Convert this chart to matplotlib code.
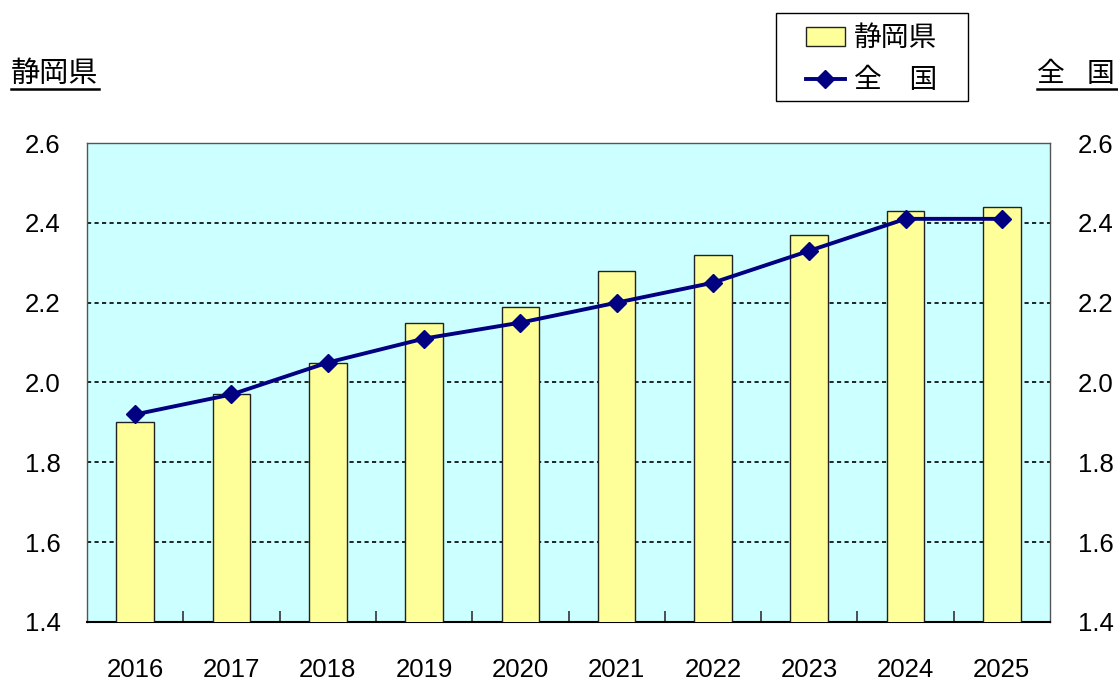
import matplotlib
matplotlib.use("Agg")
import matplotlib.pyplot as plt
from matplotlib.lines import Line2D
from matplotlib.patches import Patch, Rectangle

plt.rcParams['font.family'] = ['Liberation Sans', 'Noto Sans CJK JP', 'DejaVu Sans']

years = ["2016", "2017", "2018", "2019", "2020", "2021", "2022", "2023", "2024", "2025"]
shizuoka = [1.90, 1.97, 2.05, 2.15, 2.19, 2.28, 2.32, 2.37, 2.43, 2.44]
zenkoku = [1.92, 1.97, 2.05, 2.11, 2.15, 2.20, 2.25, 2.33, 2.41, 2.41]
yticks = [1.4, 1.6, 1.8, 2.0, 2.2, 2.4, 2.6]

fig = plt.figure(figsize=(11.18, 6.82), dpi=100)
ax = fig.add_axes([0.0778, 0.0880, 0.8614, 0.7023])
ax.set_facecolor('#CCFFFF')

x = list(range(len(years)))
ax.bar(x, shizuoka, width=0.39, color='#FFFF99', edgecolor='#222222', linewidth=1.0, zorder=3)
ax.plot(x, zenkoku, color='#000080', linewidth=2.8, marker='D', markersize=9,
        markerfacecolor='#000080', markeredgecolor='#000080', zorder=4)

ax.set_xlim(-0.5, len(years) - 0.5)
ax.set_ylim(1.4, 2.6)
ax.set_yticks(yticks)
ax.set_yticklabels([f"{v:.1f}" for v in yticks], fontsize=18.5)
ax.yaxis.grid(True, color='black', linestyle=(0, (2.5, 2)), linewidth=1.2, zorder=1)
ax.set_axisbelow(True)
ax.tick_params(axis='y', length=0, pad=19)

ax.set_xticks(x)
ax.set_xticklabels(years, fontsize=18.5)
ax.set_xticks([i + 0.5 for i in range(len(years) - 1)], minor=True)
ax.tick_params(axis='x', which='major', length=0, pad=26)
ax.tick_params(axis='x', which='minor', direction='in', length=8, width=1.2, color='#333333')

for side in ['left', 'right', 'top']:
    ax.spines[side].set_color('#555555')
    ax.spines[side].set_linewidth(1.0)
ax.spines['bottom'].set_color('black')
ax.spines['bottom'].set_linewidth(1.5)

ax2 = ax.twinx()
ax2.set_ylim(1.4, 2.6)
ax2.set_yticks(yticks)
ax2.set_yticklabels([f"{v:.1f}" for v in yticks], fontsize=18.5)
ax2.tick_params(axis='y', length=0, pad=20)
for s in ax2.spines.values():
    s.set_visible(False)

# axis titles with underline
cjk = ['Noto Sans CJK JP', 'DejaVu Sans']
fig.text(11 / 1118, 1 - 74 / 682, "静岡県", fontsize=21, family=cjk, ha='left', va='center')
fig.add_artist(Line2D([11 / 1118, 99 / 1118], [1 - 89 / 682] * 2, color='black', linewidth=1.8))
fig.text(1051 / 1118, 1 - 74 / 682, "全", fontsize=20, family=cjk, ha='center', va='center')
fig.text(1100 / 1118, 1 - 74 / 682, "国", fontsize=20, family=cjk, ha='center', va='center')
fig.add_artist(Line2D([1037 / 1118, 1118 / 1118], [1 - 89 / 682] * 2, color='black', linewidth=1.8))

# legend box
fig.add_artist(Rectangle((776 / 1118, 1 - 101 / 682), 192 / 1118, 88 / 682,
                         transform=fig.transFigure, facecolor='white', edgecolor='black',
                         linewidth=1.0, zorder=5))
handles = [Patch(facecolor='#FFFF99', edgecolor='#222222', linewidth=1.0),
           Line2D([0], [0], color='#000080', linewidth=2.8, marker='D', markersize=9)]
leg = fig.legend(handles, ["静岡県", "全\u3000国"], loc='upper left',
                 bbox_to_anchor=(806 / 1118, 1 - 23 / 682),
                 prop={'family': cjk, 'size': 20}, frameon=False, handlelength=1.4,
                 borderpad=0, labelspacing=0.45, handletextpad=0.33, borderaxespad=0)
leg.set_zorder(6)

fig.savefig("out.png", dpi=100)
